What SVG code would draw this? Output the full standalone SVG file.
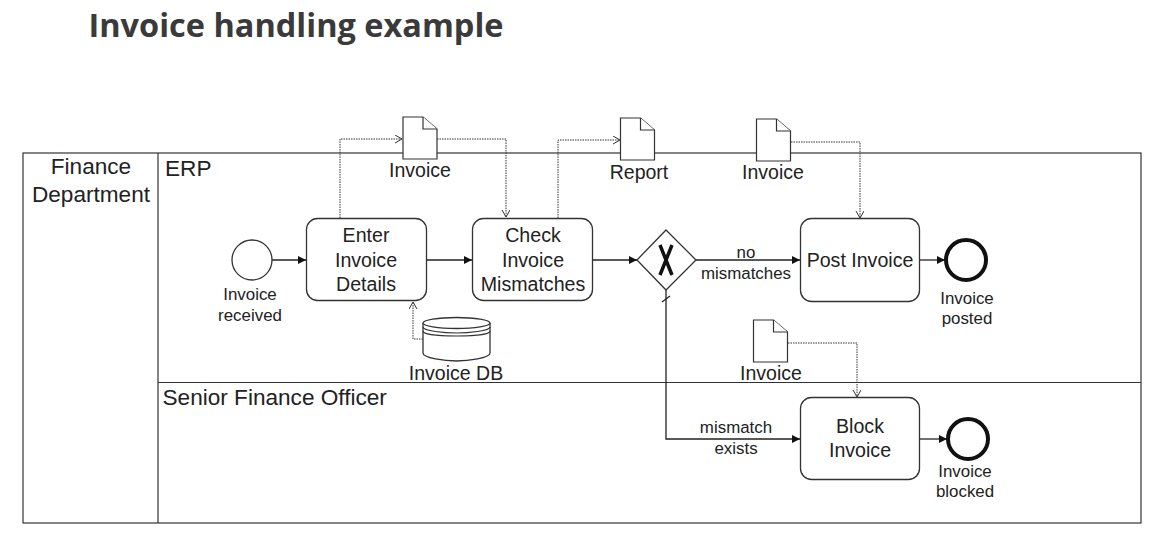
<svg xmlns="http://www.w3.org/2000/svg" width="1160" height="547" viewBox="0 0 1160 547">
<style>
text{font-family:"Liberation Sans",Arial,sans-serif;fill:#222;text-anchor:middle}
.t18{font-size:19.600px}.t17{font-size:19.500px}.t15{font-size:16.900px}.t20{font-size:22.600px}
.l{text-anchor:start}
.box{fill:#fff;stroke:#333;stroke-width:1.3}
.lane{fill:none;stroke:#333;stroke-width:1.2}
.flow{fill:none;stroke:#222;stroke-width:1.3}
.data{fill:none;stroke:#333;stroke-width:1;stroke-dasharray:1.5 1}
.doc{fill:#fff;stroke:#333;stroke-width:1.2}
</style>
<defs>
<marker id="solid" markerWidth="9" markerHeight="8" refX="8" refY="4" orient="auto" markerUnits="userSpaceOnUse"><path d="M0 0L8 4L0 8Z" fill="#111"/></marker>
<marker id="open" markerWidth="10" markerHeight="10" refX="8" refY="4" orient="auto" markerUnits="userSpaceOnUse"><path d="M1 0L8 4L1 8" fill="none" stroke="#333" stroke-width="1"/></marker>
<g id="docshape"><path class="doc" d="M0 0H20L34 12V42H0Z"/><path class="doc" d="M20 0V12H34" fill="none"/></g>
</defs>
<text x="296" y="37" style="font-family:'Open Sans','Noto Sans',sans-serif;font-size:32.500px;font-weight:700;fill:#3a3a3a">Invoice handling example</text>
<g id="pool">
<rect class="lane" x="23" y="153" width="1118" height="370"/>
<line class="lane" x1="158" y1="153" x2="158" y2="523"/>
<line class="lane" x1="158" y1="382.500" x2="1141" y2="382.500"/>
<text class="t20" x="91" y="173.500">Finance</text>
<text class="t20" x="91" y="201.500">Department</text>
<text class="t20 l" x="165" y="176">ERP</text>
<text class="t20 l" x="162.500" y="405">Senior Finance Officer</text>
</g>
<g id="connectors">
<path class="flow" marker-end="url(#solid)" d="M272 260H306"/>
<path class="flow" marker-end="url(#solid)" d="M427 260H472"/>
<path class="flow" marker-end="url(#solid)" d="M593 260H637"/>
<path class="flow" marker-end="url(#solid)" d="M696 260H800"/>
<path class="flow" marker-end="url(#solid)" d="M919 260H945"/>
<path class="flow" marker-end="url(#solid)" d="M666 290V439H800"/>
<path class="flow" marker-end="url(#solid)" d="M919 439H947"/>
<path class="flow" d="M662 302L670 296"/>
<path class="data" marker-end="url(#open)" d="M340 218V139H402"/>
<path class="data" marker-end="url(#open)" d="M437 139H506V217"/>
<path class="data" marker-end="url(#open)" d="M558 218V140H620"/>
<path class="data" marker-end="url(#open)" d="M791 142H860V218"/>
<path class="data" marker-end="url(#open)" d="M788 343H857V397"/>
<path class="data" marker-end="url(#open)" d="M423 339H413V302"/>
</g>
<g id="invoice-received"><circle cx="252" cy="260" r="20" fill="#fff" stroke="#333" stroke-width="1.3"/><text class="t15" x="250" y="299.500">Invoice</text><text class="t15" x="250" y="320.500">received</text></g>
<g id="enter-invoice"><rect class="box" x="306.500" y="218.500" width="120" height="82" rx="11"/><text class="t18" x="366" y="241.500">Enter</text><text class="t18" x="366" y="266.500">Invoice</text><text class="t18" x="366" y="290.500">Details</text></g>
<g id="check-invoice"><rect class="box" x="472.500" y="218.500" width="120" height="82" rx="11"/><text class="t18" x="533" y="241.500">Check</text><text class="t18" x="533" y="266.500">Invoice</text><text class="t18" x="533" y="290.500">Mismatches</text></g>
<g id="gateway"><path class="box" d="M666 230L696 260L666 290L637 260Z"/><path d="M660 245L672 275M672 245L660 275" fill="none" stroke="#111" stroke-width="3.500"/></g>
<g id="post-invoice"><rect class="box" x="800.500" y="218.500" width="119" height="83" rx="11"/><text class="t18" x="860" y="266.500">Post Invoice</text></g>
<g id="invoice-posted"><circle cx="966" cy="260" r="20" fill="#fff" stroke="#111" stroke-width="4"/><text class="t15" x="967" y="303.500">Invoice</text><text class="t15" x="967" y="323.500">posted</text></g>
<g id="block-invoice"><rect class="box" x="800.500" y="397.500" width="119" height="82" rx="11"/><text class="t18" x="860" y="432.500">Block</text><text class="t18" x="860" y="456.500">Invoice</text></g>
<g id="invoice-blocked"><circle cx="968" cy="439" r="20" fill="#fff" stroke="#111" stroke-width="4"/><text class="t15" x="965" y="476.500">Invoice</text><text class="t15" x="965" y="496.500">blocked</text></g>
<g id="doc-invoice-1"><use href="#docshape" x="403" y="117"/><text class="t17" x="420" y="176.500">Invoice</text></g>
<g id="doc-report"><use href="#docshape" x="620.500" y="118"/><text class="t17" x="639" y="178.500">Report</text></g>
<g id="doc-invoice-2"><use href="#docshape" x="756.500" y="119"/><text class="t17" x="773" y="178.500">Invoice</text></g>
<g id="doc-invoice-3"><use href="#docshape" x="753.500" y="320"/><text class="t17" x="771" y="379.500">Invoice</text></g>
<g id="invoice-db">
<path class="box" d="M423 323V353C423 358 445 361 456.500 361C468 361 490 358 490 353V323"/>
<ellipse class="box" cx="456.500" cy="323" rx="33.500" ry="5.500"/>
<path fill="none" stroke="#333" stroke-width="1.200" d="M423 327C423 331 445 333 456.500 333C468 333 490 331 490 327M423 331C423 335 445 336 456.500 336C468 336 490 335 490 331"/>
<text class="t17" x="456" y="379.500">Invoice DB</text>
</g>
<g id="labels">
<text class="t15" x="746" y="257.500">no</text>
<text class="t15" x="746" y="278.500">mismatches</text>
<text class="t15" x="736" y="432.500">mismatch</text>
<text class="t15" x="736" y="453.500">exists</text>
</g>
</svg>
